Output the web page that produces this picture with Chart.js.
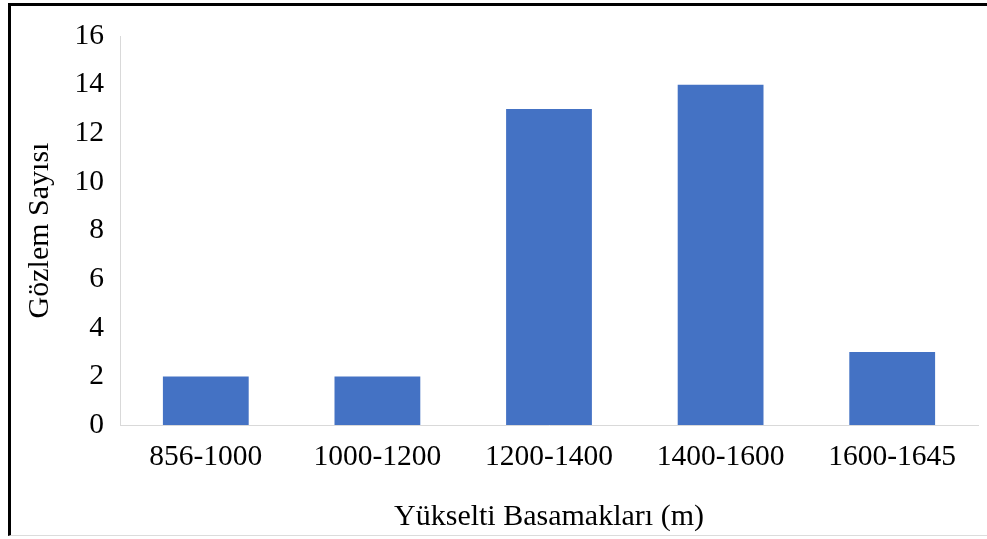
<!DOCTYPE html>
<html>
<head>
<meta charset="utf-8">
<script src="https://cdn.jsdelivr.net/npm/chart.js@4.4.1/dist/chart.umd.min.js"></script>
<style>
  html, body { margin: 0; padding: 0; background: #fff; }
  #wrap { position: relative; width: 987px; height: 539px; overflow: hidden; }
  #frame {
    position: absolute; left: 8px; top: 3px; width: 990px; height: 533px;
    border-left: 3px solid #000; border-top: 3px solid #000; border-bottom: 1px solid #dcdcdc;
    pointer-events: none; box-sizing: border-box;
  }
  canvas { position: absolute; left: 0; top: 0; }
</style>
</head>
<body>
<div id="wrap">
  <canvas id="c" width="987" height="539"></canvas>
  <div id="frame"></div>
</div>
<script>
// Elevation classes and observation counts
const categories = ['856-1000', '1000-1200', '1200-1400', '1400-1600', '1600-1645'];
const counts = [2, 2, 13, 14, 3];
const yTicks = [0, 2, 4, 6, 8, 10, 12, 14, 16];

const xTitle = 'Yükselti Basamakları (m)';
const yTitle = 'Gözlem Sayısı';

const serif = '"Liberation Serif", "Times New Roman", serif';

new Chart(document.getElementById('c'), {
  type: 'bar',
  data: {
    labels: categories,
    datasets: [{
      data: counts,
      backgroundColor: '#4472C4',
      borderWidth: 0,
      categoryPercentage: 1,
      barPercentage: 0.5
    }]
  },
  options: {
    responsive: false,
    animation: false,
    layout: { padding: { left: 0, right: 9, top: 36, bottom: 0 } },
    plugins: { legend: { display: false }, tooltip: { enabled: false } },
    scales: {
      x: {
        grid: { display: false, drawTicks: false },
        border: { display: true, color: '#d9d9d9', width: 1 },
        ticks: { color: '#000', font: { family: serif, size: 29.5 }, padding: 15, maxRotation: 0 },
        title: { display: true, text: xTitle, color: '#000', font: { family: serif, size: 30 }, padding: { top: 8, bottom: 4 } },
        afterFit: (s) => { s.height = 114; }
      },
      y: {
        min: 0, max: 16,
        afterBuildTicks: (s) => { s.ticks = yTicks.map(v => ({ value: v })); },
        grid: { display: false, drawTicks: false },
        border: { display: true, color: '#d9d9d9', width: 1 },
        ticks: { color: '#000', font: { family: serif, size: 29.5 }, padding: 16 },
        title: { display: true, text: yTitle, color: '#000', font: { family: serif, size: 30 }, padding: { top: 22, bottom: 0 } },
        afterFit: (s) => { s.width = 120; }
      }
    }
  }
});
</script>
</body>
</html>
